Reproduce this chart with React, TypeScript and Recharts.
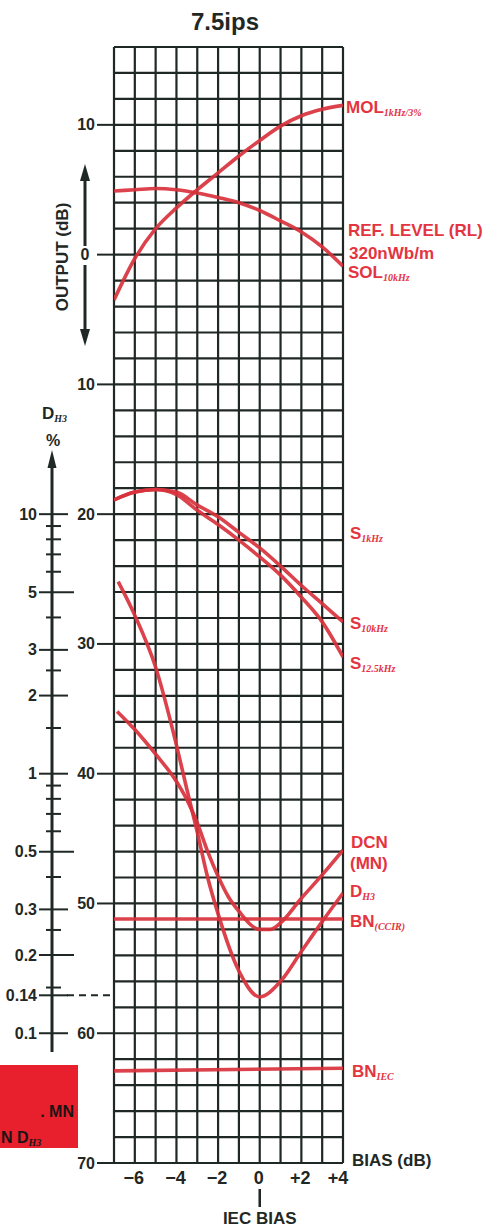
import React from "react";
import { LineChart, Line, XAxis, YAxis, CartesianGrid } from "recharts";

const W = 492;
const H = 1227;
const INK = "#1f2824";
const CURVE_RED = "#d8323c";
const LABEL_RED = "#e4343f";
const FONT = "'Liberation Sans', Arial, Helvetica, sans-serif";
const SUB_FONT = "'Liberation Serif', 'Times New Roman', serif";

// ── Axes ────────────────────────────────────────────────────────────────────
const BIAS_DOMAIN = [-7, 4];
const BIAS_TICKS = [-6, -4, -2, 0, 2, 4];
const BIAS_TICK_LABELS = ["−6", "−4", "−2", "0", "+2", "+4"];

const DB_DOMAIN = [-70, 16];
const DB_TICKS = [10, 0, -10, -20, -30, -40, -50, -60, -70];
const DB_TICK_LABELS = ["10", "0", "10", "20", "30", "40", "50", "60", "70"];

// D_H3 % scale (10% = -20 dB, 1% = -40 dB, 0.1% = -60 dB)
const PCT_LABELED = [10, 5, 3, 2, 1, 0.5, 0.3, 0.2, 0.14, 0.1];
const PCT_LABELS = ["10", "5", "3", "2", "1", "0.5", "0.3", "0.2", "0.14", "0.1"];
const PCT_LONG = [5, 0.5, 0.2];
const PCT_MINOR = [9, 8, 7, 6, 4, 2.5, 1.5, 0.9, 0.8, 0.7, 0.6, 0.4, 0.25, 0.15];

// ── Curves (bias dB → output dB) ────────────────────────────────────────────
const MOL_BIAS = [-7, -6, -5, -4, -3, -2, -1, 0, 1, 2, 3, 4];
const MOL_DB = [-3.5, -0.3, 2.0, 3.6, 5.0, 6.3, 7.6, 8.8, 9.9, 10.7, 11.2, 11.5];

const SOL_BIAS = [-7, -6, -5, -4, -3, -2, -1, 0, 1, 2, 3, 4];
const SOL_DB = [4.9, 5.0, 5.1, 5.0, 4.75, 4.4, 4.0, 3.4, 2.6, 1.75, 0.6, -0.9];

const S10K_BIAS = [-7, -6, -5, -4, -3, -2, -1, 0, 1, 2, 3, 4];
const S10K_DB = [-18.9, -18.3, -18.1, -18.3, -19.3, -20.2, -21.4, -22.6, -24.0, -25.5, -26.9, -28.3];

const S125K_BIAS = [-7, -6, -5, -4, -3, -2, -1, 0, 1, 2, 3, 4];
const S125K_DB = [-18.9, -18.3, -18.1, -18.5, -19.7, -20.8, -22.0, -23.3, -24.7, -26.4, -28.3, -31.0];

const DCN_BIAS = [-6.85, -6, -5, -4, -3.5, -3, -2.5, -2, -1.5, -1, 0, 0.5, 1, 2, 3, 4];
const DCN_DB = [-35.2, -36.6, -38.5, -40.6, -42.0, -43.8, -46.0, -47.9, -49.5, -50.6, -52.0, -52.0, -51.5, -49.6, -47.8, -45.9];

const DH3_BIAS = [-6.8, -6, -5, -4, -3.5, -3, -2.5, -2, -1, 0, 1, 2, 3, 4];
const DH3_DB = [-25.2, -27.8, -31.8, -37.8, -41.2, -44.5, -48.0, -50.8, -55.2, -57.2, -56.0, -53.7, -51.4, -49.2];

const BN_CCIR_BIAS = [-7, 4];
const BN_CCIR_DB = [-51.2, -51.2];

const BN_IEC_BIAS = [-7, 4];
const BN_IEC_DB = [-62.9, -62.7];

const GRID_BIAS = Array.from({ length: 12 }, (_, i) => -7 + i);
const GRID_DB = Array.from({ length: 44 }, (_, i) => -70 + i * 2);

const pts = (xs: number[], ys: number[]) => xs.map((x, i) => ({ x, y: ys[i] }));
const pctToDb = (p: number) => -40 + 20 * Math.log10(p);

const PCT_ALL = [
  ...PCT_LABELED.map((p, i) => ({ p, label: PCT_LABELS[i], long: PCT_LONG.includes(p) })),
  ...PCT_MINOR.map((p) => ({ p, label: "", long: false })),
];
const PCT_TICK_DB = PCT_ALL.map((t) => pctToDb(t.p));

const SERIES = [
  { key: "mol", data: pts(MOL_BIAS, MOL_DB) },
  { key: "sol", data: pts(SOL_BIAS, SOL_DB) },
  { key: "s10k", data: pts(S10K_BIAS, S10K_DB) },
  { key: "s125k", data: pts(S125K_BIAS, S125K_DB) },
  { key: "dcn", data: pts(DCN_BIAS, DCN_DB) },
  { key: "dh3", data: pts(DH3_BIAS, DH3_DB) },
  { key: "bnccir", data: pts(BN_CCIR_BIAS, BN_CCIR_DB) },
  { key: "bniec", data: pts(BN_IEC_BIAS, BN_IEC_DB) },
];

const bold = { fontFamily: FONT, fontWeight: 700 } as const;

function BiasTick(props: any) {
  const { x, payload } = props;
  const i = BIAS_TICKS.indexOf(payload.value);
  const shift = payload.value === 4 ? -5 : -1;
  return (
    <g>
      <text x={x + shift} y={1184} textAnchor="middle" fontSize={18} fill={INK} {...bold}>
        {BIAS_TICK_LABELS[i]}
      </text>
      {payload.value === 0 && (
        <g>
          <line x1={x} x2={x} y1={1189} y2={1207} stroke={INK} strokeWidth={2.5} />
          <text x={x} y={1224} textAnchor="middle" fontSize={17} fill={INK} {...bold}>
            IEC BIAS
          </text>
        </g>
      )}
    </g>
  );
}

function DbTick(props: any) {
  const { y, payload } = props;
  const i = DB_TICKS.indexOf(payload.value);
  const zero = payload.value === 0;
  return (
    <g>
      <line x1={97} x2={114} y1={y} y2={y} stroke={INK} strokeWidth={2} />
      <text
        x={zero ? 85 : 95}
        y={y + 5.5}
        textAnchor={zero ? "middle" : "end"}
        fontSize={16}
        fill={INK}
        {...bold}
      >
        {DB_TICK_LABELS[i]}
      </text>
    </g>
  );
}

function PctTick(props: any) {
  const { y, payload } = props;
  const t = PCT_ALL.find((d) => Math.abs(pctToDb(d.p) - payload.value) < 1e-6);
  if (!t) return <g />;
  if (!t.label) {
    return <line x1={46} x2={61} y1={y} y2={y} stroke={INK} strokeWidth={2} />;
  }
  return (
    <g>
      <line x1={39} x2={t.long ? 74 : 68} y1={y} y2={y} stroke={INK} strokeWidth={2} />
      <text x={37} y={y + 5.5} textAnchor="end" fontSize={16} fill={INK} {...bold}>
        {t.label}
      </text>
      {t.p === 0.14 && (
        <line x1={67} x2={113} y1={y} y2={y} stroke={INK} strokeWidth={2} strokeDasharray="7 5" />
      )}
    </g>
  );
}

function Sub({ children }: { children: React.ReactNode }) {
  return (
    <tspan fontFamily={SUB_FONT} fontStyle="italic" fontWeight={700} fontSize={10} dy={3}>
      {children}
    </tspan>
  );
}

function RedLabel({ x, y, main, sub }: { x: number; y: number; main: string; sub?: string }) {
  return (
    <text x={x} y={y} fontSize={17} fill={LABEL_RED} {...bold}>
      {main}
      {sub && <Sub>{sub}</Sub>}
    </text>
  );
}

export default function App() {
  return (
    <div style={{ position: "absolute", left: 0, top: 0, width: W, height: H, background: "#fff" }}>
      <LineChart width={W} height={H} margin={{ top: 47, right: 149, bottom: 0, left: 0 }}>
        <CartesianGrid
          stroke={INK}
          strokeWidth={2.2}
          horizontalValues={GRID_DB}
          verticalValues={GRID_BIAS}
        />
        <XAxis
          dataKey="x"
          type="number"
          domain={BIAS_DOMAIN}
          ticks={BIAS_TICKS}
          interval={0}
          height={64}
          axisLine={false}
          tickLine={false}
          tick={BiasTick}
          allowDataOverflow
        />
        <YAxis
          type="number"
          domain={DB_DOMAIN}
          ticks={DB_TICKS}
          interval={0}
          width={54}
          axisLine={false}
          tickLine={false}
          tick={DbTick}
          allowDataOverflow
        />
        <YAxis
          yAxisId="pct"
          type="number"
          domain={DB_DOMAIN}
          ticks={PCT_TICK_DB}
          interval={0}
          width={60}
          axisLine={false}
          tickLine={false}
          tick={PctTick}
          allowDataOverflow
        />
        {SERIES.map((s) => (
          <Line
            key={s.key}
            data={s.data}
            dataKey="y"
            type="monotone"
            stroke={CURVE_RED}
            strokeWidth={3.6}
            strokeOpacity={0.92}
            dot={false}
            activeDot={false}
            isAnimationActive={false}
          />
        ))}
      </LineChart>

      <svg
        width={W}
        height={H}
        style={{ position: "absolute", left: 0, top: 0, pointerEvents: "none" }}
      >
        {/* title */}
        <text x={225} y={30} textAnchor="middle" fontSize={24} fill={INK} {...bold}>
          7.5ips
        </text>

        {/* OUTPUT (dB) with double arrow */}
        <text
          x={62}
          y={263}
          textAnchor="middle"
          fontSize={17}
          fill={INK}
          transform="rotate(-90 62 257)"
          {...bold}
        >
          OUTPUT (dB)
        </text>
        <line x1={85} x2={85} y1={178} y2={246} stroke={INK} strokeWidth={3} />
        <line x1={85} x2={85} y1={265} y2={332} stroke={INK} strokeWidth={3} />
        <polygon points="85,164 80,181 90,181" fill={INK} />
        <polygon points="85,346 80,329 90,329" fill={INK} />

        {/* D_H3 % scale */}
        <line x1={52} x2={52} y1={462} y2={1052} stroke={INK} strokeWidth={3} />
        <polygon points="52,450 47.5,468 56.5,468" fill={INK} />
        <text x={42} y={419} fontSize={17} fill={INK} {...bold}>
          D
          <Sub>H3</Sub>
        </text>
        <text x={53} y={446} textAnchor="middle" fontSize={16} fill={INK} {...bold}>
          %
        </text>

        {/* right labels */}
        <RedLabel x={346} y={113} main="MOL" sub="1kHz/3%" />
        <text x={348} y={236} fontSize={17} fill={LABEL_RED} {...bold}>
          REF. LEVEL (RL)
        </text>
        <text x={349} y={259} fontSize={17} fill={LABEL_RED} {...bold}>
          320nWb/m
        </text>
        <RedLabel x={348} y={278} main="SOL" sub="10kHz" />
        <RedLabel x={350} y={539} main="S" sub="1kHz" />
        <RedLabel x={350} y={629} main="S" sub="10kHz" />
        <RedLabel x={350} y={669} main="S" sub="12.5kHz" />
        <RedLabel x={351} y={848} main="DCN" />
        <RedLabel x={350} y={869} main="(MN)" />
        <RedLabel x={350} y={897} main="D" sub="H3" />
        <RedLabel x={350} y={927} main="BN" sub="(CCIR)" />
        <RedLabel x={352} y={1077} main="BN" sub="IEC" />

        <text x={352} y={1166} fontSize={17} fill={INK} {...bold}>
          BIAS (dB)
        </text>

        {/* cut-off legend box */}
        <rect x={0} y={1065} width={78} height={83} fill="#e8202d" />
        <text x={74} y={1117} textAnchor="end" fontSize={16} fill="#1c1414" {...bold}>
          .  MN
        </text>
        <text x={1} y={1143} fontSize={16} fill="#1c1414" {...bold}>
          N  D
          <Sub>H3</Sub>
        </text>
      </svg>
    </div>
  );
}
